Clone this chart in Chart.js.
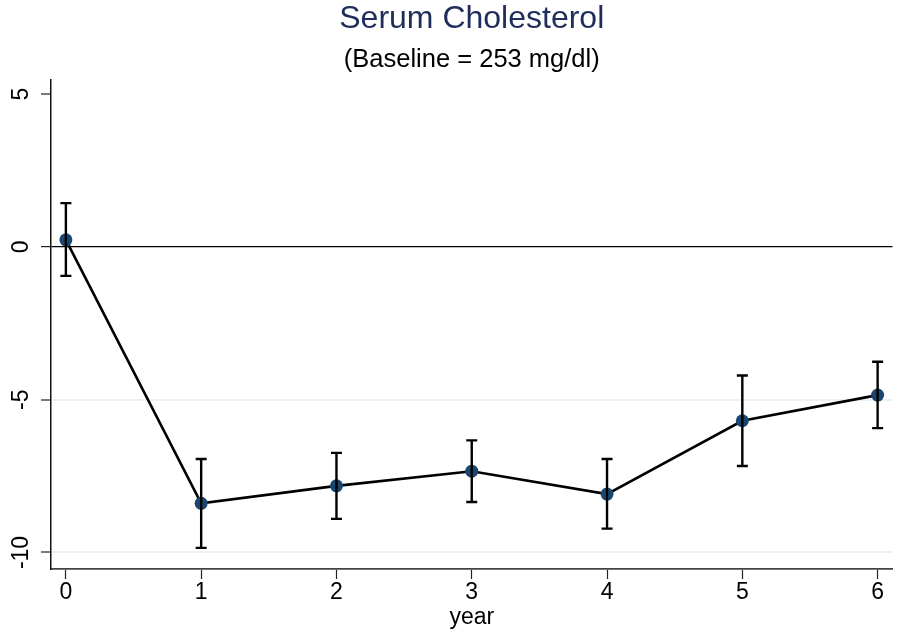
<!DOCTYPE html>
<html><head><meta charset="utf-8">
<script src="https://cdn.jsdelivr.net/npm/chart.js@4"></script>
<style>html,body{margin:0;padding:0;background:#fff}</style>
</head><body>
<canvas id="c" width="899" height="635" style="width:899px;height:635px;display:block"></canvas>
<script>
const years = [0, 1, 2, 3, 4, 5, 6];
const meanChange = [0.23, -8.39, -7.82, -7.34, -8.09, -5.69, -4.85];
const ciUpper = [1.43, -6.94, -6.74, -6.33, -6.94, -4.21, -3.76];
const ciLower = [-0.95, -9.85, -8.90, -8.35, -9.22, -7.17, -5.93];
const xTicks = [0, 1, 2, 3, 4, 5, 6];
const yTicks = [-10, -5, 0, 5];
const titleText = 'Serum Cholesterol';
const subtitleText = '(Baseline = 253 mg/dl)';
const xTitle = 'year';

const FONT = "'Liberation Sans', Arial, Helvetica, sans-serif";

const errorBars = {
  id: 'errorBars',
  afterDatasetsDraw(chart) {
    const { ctx, scales: { x, y } } = chart;
    ctx.save();
    ctx.strokeStyle = '#000';
    ctx.lineWidth = 2.4;
    ctx.lineCap = 'butt';
    years.forEach((yr, i) => {
      const px = x.getPixelForValue(yr);
      const top = y.getPixelForValue(ciUpper[i]);
      const bot = y.getPixelForValue(ciLower[i]);
      ctx.beginPath();
      ctx.moveTo(px, top); ctx.lineTo(px, bot);
      ctx.moveTo(px - 5.5, top); ctx.lineTo(px + 5.5, top);
      ctx.moveTo(px - 5.5, bot); ctx.lineTo(px + 5.5, bot);
      ctx.stroke();
    });
    ctx.restore();
  }
};

new Chart(document.getElementById('c'), {
  type: 'scatter',
  data: {
    datasets: [{
      data: years.map((v, i) => ({ x: v, y: meanChange[i] })),
      showLine: true,
      borderColor: '#000',
      borderWidth: 2.6,
      pointBackgroundColor: '#1a476f',
      pointBorderColor: '#1a476f',
      pointRadius: 6.5,
      pointBorderWidth: 0,
      clip: false
    }]
  },
  options: {
    responsive: false,
    animation: false,
    devicePixelRatio: 1,
    layout: { padding: 0 },
    plugins: {
      legend: { display: false },
      tooltip: { enabled: false },
      title: {
        display: true, text: titleText, fullSize: false,
        color: '#1f2d5a',
        font: { family: FONT, size: 32, weight: 'normal' },
        padding: { top: 0, bottom: 5.8 }
      },
      subtitle: {
        display: true, text: subtitleText, fullSize: false,
        color: '#000',
        font: { family: FONT, size: 25.5, weight: 'normal' },
        padding: { top: 0, bottom: 5.2 }
      }
    },
    scales: {
      x: {
        type: 'linear', position: 'bottom',
        min: -0.11, max: 6.11,
        afterBuildTicks: s => { s.ticks = xTicks.map(v => ({ value: v })); },
        afterFit: s => { s.height = 66; },
        grid: { drawOnChartArea: false, tickLength: 10, tickColor: '#222', tickWidth: 1.2 },
        border: { color: '#444', width: 1.8 },
        ticks: { color: '#000', font: { family: FONT, size: 23 }, padding: 0, maxRotation: 0 },
        title: { display: true, text: xTitle, color: '#000', font: { family: FONT, size: 23 }, padding: { top: 0, bottom: 3.5 } }
      },
      y: {
        type: 'linear', position: 'left',
        min: -10.54, max: 5.46,
        afterBuildTicks: s => { s.ticks = yTicks.map(v => ({ value: v })); },
        afterFit: s => { s.width = 51; },
        grid: {
          color: c => (c.tick && c.tick.value === 0) ? '#000' : ((c.tick && (c.tick.value === -5 || c.tick.value === -10)) ? '#eaf2f3' : 'rgba(0,0,0,0)'),
          lineWidth: c => (c.tick && c.tick.value === 0) ? 1.2 : 2,
          tickColor: '#222', tickWidth: 1.2, tickLength: 10
        },
        border: { color: '#111', width: 1.5 },
        ticks: {
          color: '#000', font: { family: FONT, size: 23 },
          minRotation: 90, maxRotation: 90, crossAlign: 'center', padding: 2.7
        }
      }
    }
  },
  plugins: [errorBars]
});
</script>
</body></html>
